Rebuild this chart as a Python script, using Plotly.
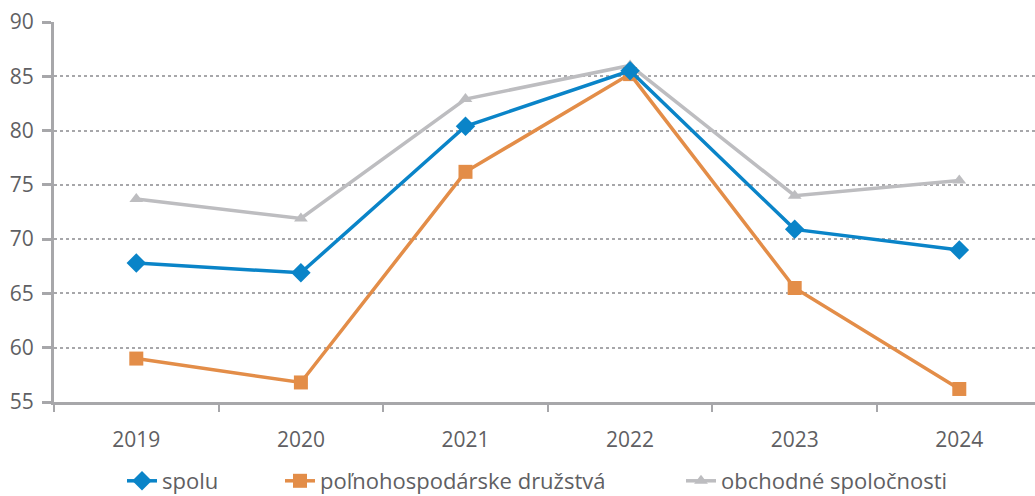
import plotly.graph_objects as go

years = ["2019", "2020", "2021", "2022", "2023", "2024"]
spolu = [67.8, 66.9, 80.4, 85.5, 70.9, 69.0]
druzstva = [59.0, 56.8, 76.2, 85.2, 65.5, 56.2]
obchodne = [73.7, 71.9, 82.9, 86.0, 74.0, 75.4]

names = ["spolu", "poľnohospodárske družstvá", "obchodné spoločnosti"]
colors = ["#0a84c8", "#e38d48", "#bdbdc0"]

FONT = "Open Sans"
TXT = "#5f5f63"

fig = go.Figure()
fig.add_trace(go.Scatter(x=years, y=obchodne, name=names[2], mode="lines+markers",
                         legend="legend3",
                         line=dict(color=colors[2], width=3.5),
                         marker=dict(symbol="triangle-up", size=12, color=colors[2])))
fig.add_trace(go.Scatter(x=years, y=druzstva, name=names[1], mode="lines+markers",
                         legend="legend2",
                         line=dict(color=colors[1], width=3.5),
                         marker=dict(symbol="square", size=14, color=colors[1])))
fig.add_trace(go.Scatter(x=years, y=spolu, name=names[0], mode="lines+markers",
                         legend="legend",
                         line=dict(color=colors[0], width=3.5),
                         marker=dict(symbol="diamond", size=15, color=colors[0])))

def leg(xpx):
    return dict(orientation="h", xref="container", x=xpx / 1035, xanchor="left",
                yref="container", y=1 - 481 / 496, yanchor="middle",
                font=dict(family=FONT, size=22, color=TXT),
                bgcolor="rgba(0,0,0,0)", borderwidth=0)

fig.update_layout(
    width=1035, height=496,
    margin=dict(l=54, r=0, t=22, b=94),
    plot_bgcolor="white", paper_bgcolor="white",
    font=dict(family=FONT, size=21, color=TXT),
    showlegend=True,
    legend=leg(122),
    legend2=leg(280),
    legend3=leg(681),
    xaxis=dict(type="category", range=[-0.5, 5.46], showline=True, linecolor="#a7a7aa",
               linewidth=3, ticks="outside", tickson="boundaries", ticklen=7,
               tickcolor="#a7a7aa", tickwidth=2, showgrid=False, automargin=False,
               ticklabelstandoff=17,
               tickfont=dict(family=FONT, size=21, color=TXT)),
    yaxis=dict(range=[55, 90], dtick=5, showline=True, linecolor="#a7a7aa", linewidth=3,
               ticks="outside", ticklen=9, tickcolor="#a7a7aa", tickwidth=3,
               showgrid=True, gridcolor="#a7a7aa", griddash="dot", gridwidth=2,
               zeroline=False, automargin=False, ticklabelstandoff=4,
               tickfont=dict(family=FONT, size=21, color=TXT)),
)

fig.write_html("out.html", config={"displayModeBar": False},
               post_script="document.body.style.margin='0';document.body.style.padding='0';")
